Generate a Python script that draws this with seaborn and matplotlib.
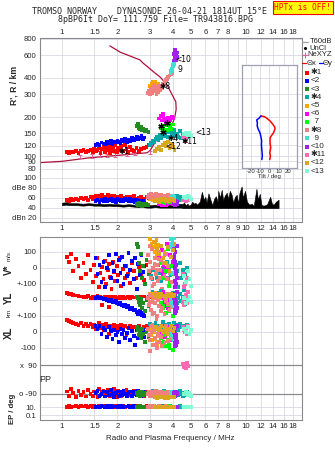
import numpy as np
import pandas as pd
import matplotlib
matplotlib.use("Agg")
import matplotlib.pyplot as plt
from matplotlib.ticker import NullLocator
import seaborn as sns

sns.set_theme(style="white")
plt.rcParams["font.family"] = ["Liberation Sans", "DejaVu Sans"]

# ---------------------------------------------------------------- axes ticks
FREQ_TICKS = [1, 1.5, 2, 3, 4, 5, 6, 7, 8, 9, 10, 12, 14, 16, 18]
EDGE_FREQ_LABELS = [1, 1.5, 2, 3, 4, 5, 6, 7, 8, 10, 12, 14, 16, 18]
HEIGHT_TICKS = [80, 90, 100, 120, 150, 200, 300, 400, 600, 800]
DB_TICKS = [20, 40, 60, 80, 100]
DB_LABELS = ["dBn 20", "40", "60", "dBe 80", "100"]
TILT_TICKS = [-20, -10, 0, 10, 20]

ECHO_NAMES = ["✱1", "<2", "<3", "✱4", "<5", "<6", "  7", "✱8", "  9",
              "<10", "✱11", "<12", "<13"]
ECHO_COLORS = ["#ff0000", "#0000ff", "#228b22", "#00a8a8", "#ffa500",
               "#ff00ff", "#00ff00", "#f08080", "#40e0d0", "#a020f0",
               "#ff69b4", "#daa520", "#7fffd4"]

# ---------------------------------------------------------------- echoes
# per echo: frequency (MHz), virtual height (km), amplitude (dB),
# V* (m/s), YL (km), XL (km), polarisation PP (deg), EP (deg)
F1 = [1.06, 1.09, 1.12, 1.15, 1.19, 1.23, 1.27, 1.31, 1.35, 1.39,
      1.43, 1.47, 1.50, 1.53, 1.56, 1.59, 1.62, 1.65, 1.68, 1.71,
      1.74, 1.77, 1.80, 1.83, 1.86, 1.89, 1.92, 1.95, 1.98, 2.02,
      2.06, 2.10, 2.14, 2.19, 2.24, 2.29, 2.35, 2.41, 2.47, 2.54,
      2.61, 2.69, 2.78, 2.88, 2.98]
H1 = [107, 106, 108, 107, 110, 106, 109, 111, 108, 110,
      112, 107, 114, 109, 111, 116, 106, 113, 118, 108,
      115, 111, 120, 105, 114, 117, 110, 122, 108, 116,
      112, 119, 109, 121, 114, 108, 117, 112, 110, 115,
      109, 113, 116, 118, 121]
A1 = [55, 54, 57, 56, 58, 55, 59, 57, 60, 56,
      62, 58, 61, 64, 59, 63, 57, 65, 60, 62,
      58, 66, 61, 59, 63, 60, 64, 58, 62, 61,
      59, 63, 57, 60, 62, 58, 61, 59, 63, 57,
      60, 62, 58, 61, 59]
V1 = [70, 40, 90, -20, 55, 10, -60, 30, -40, 80,
      -10, -90, 20, -50, 60, -120, -30, 5, -70, 45,
      -100, -15, 25, -55, -130, 35, -25, -80, 10, -45,
      65, -110, -5, -65, 15, -35, -95, 30, -20, -60,
      5, -40, -75, 20, -30]
Y1 = [42, 38, 35, 30, 28, 25, 22, 20, 18, 24,
      15, 20, 12, 18, 25, 14, 20, -30, 16, 22,
      12, 18, -45, 15, 20, 10, 16, 22, -20, 14,
      18, 12, 20, 15, -35, 18, 12, 22, 16, 20,
      14, 18, 22, 16, 20]
X1 = [75, 70, 60, 58, 50, 45, 55, 40, 48, 35,
      52, 30, 45, 20, 38, 55, 25, 42, 15, 35,
      50, 28, -10, 40, 32, 18, 45, 25, 38, 10,
      30, 42, 22, 35, -20, 28, 40, 15, 32, 25,
      38, 20, 30, 35, 28]
P1 = [-75, -100, -60, -85, -110, -70, -95, -80, -105, -65,
      -90, -100, -75, -85, -110, -60, -95, -80, -70, -100,
      -90, -65, -85, -105, -75, -95, -60, -80, -110, -70,
      -90, -100, -75, -85, -65, -95, -80, -105, -70, -90,
      -85, -75, -100, -80, -90]
E1 = [12, 15, 10, 14, 18, 11, 16, 13, 20, 9,
      15, 12, 17, 10, 14, 19, 11, 16, 13, 8,
      15, 12, 18, 10, 14, 16, 11, 13, 20, 9,
      15, 12, 17, 10, 14, 13, 11, 16, 12, 15,
      10, 14, 13, 17, 12]

F2 = [1.52, 1.56, 1.60, 1.64, 1.68, 1.72, 1.76, 1.80, 1.84, 1.88,
      1.92, 1.96, 2.00, 2.04, 2.08, 2.12, 2.16, 2.20, 2.25, 2.30,
      2.35, 2.40, 2.45, 2.50, 2.55, 2.60, 2.65, 2.70, 2.75, 2.80]
H2 = [121, 124, 122, 127, 125, 123, 128, 126, 130, 124,
      129, 127, 132, 128, 126, 133, 130, 135, 129, 134,
      131, 137, 133, 136, 140, 134, 138, 142, 136, 139]
A2 = [53, 55, 52, 56, 54, 57, 53, 55, 58, 54,
      56, 52, 57, 55, 53, 56, 54, 58, 55, 53,
      57, 54, 56, 52, 55, 53, 54, 51, 53, 50]
V2 = [60, -40, 20, -90, 40, -120, 0, 80, -60, 30,
      -20, 90, -80, 50, -30, 70, -100, 10, -50, 95,
      -10, 45, -70, 65, -130, 25, -45, 80, -25, 10]
Y2 = [15, 18, 10, 12, 5, 8, 0, -5, 2, -10,
      -15, -8, -20, -25, -18, -30, -35, -28, -45, -40,
      -55, -50, -65, -60, -75, -85, -70, -95, -80, -100]
X2 = [40, 20, 35, -10, 25, 10, -30, 30, 5, -45,
      15, -20, 0, -60, 20, -15, 10, -35, -5, 25,
      -50, 5, -25, -80, 10, -40, -10, -20, 15, -30]
P2 = [-85, -70, -100, -90, -75, -105, -80, -95, -65, -90,
      -110, -85, -75, -100, -80, -95, -70, -90, -105, -85,
      -75, -100, -80, -90, -95, -70, -85, -100, -80, -90]
E2 = [12, 14, 10, 16, 13, 11, 15, 12, 18, 10,
      14, 13, 11, 16, 12, 15, 10, 14, 13, 17,
      11, 12, 15, 10, 14, 13, 16, 11, 12, 14]

F3 = [2.55, 2.58, 2.62, 2.65, 2.68, 2.72, 2.76, 2.82, 2.88, 2.95]
H3 = [170, 176, 165, 160, 168, 158, 162, 157, 160, 154]
A3 = [47, 45, 49, 46, 48, 44, 47, 45, 48, 46]
V3 = [150, 130, 30, -20, 90, -60, 10, -100, 50, -40]
Y3 = [20, 10, -10, -30, 5, -50, -20, -70, 0, -40]
X3 = [30, 10, -20, 5, -40, 20, -10, -60, 0, -30]
P3 = [-85, -95, -80, -100, -90, -75, -95, -85, -90, -80]
E3 = [12, 14, 11, 15, 13, 10, 14, 12, 11, 13]

F4 = [3.00, 3.05, 3.10, 3.16, 3.22, 3.28, 3.34, 3.40, 3.46, 3.52,
      3.58, 3.64, 3.70, 3.76, 3.82, 3.88, 3.94, 4.00, 4.06, 4.12,
      4.20, 4.28, 4.36, 4.44, 4.52, 4.60, 4.68, 4.76]
H4 = [122, 126, 130, 128, 135, 140, 133, 145, 138, 150,
      142, 148, 155, 140, 152, 160, 145, 150, 158, 142,
      148, 140, 155, 138, 145, 142, 148, 140]
A4 = [58, 62, 56, 60, 64, 55, 59, 61, 57, 63,
      52, 58, 60, 56, 62, 54, 59, 61, 57, 60,
      64, 58, 62, 55, 60, 58, 56, 59]
V4 = [-20, -50, -70, -10, -40, -60, 20, -30, -80, 0,
      -55, -25, 40, -65, -15, -45, 10, -35, 60, -90,
      -20, -120, 30, -60, -10, -140, -40, 0]
Y4 = [40, 30, 50, 20, 35, 45, 10, 25, 55, 15,
      30, 5, 40, 20, -10, 30, 10, 45, 0, 25,
      -20, 15, 35, -5, 20, 10, -25, 5]
X4 = [50, 30, 45, 20, 55, 35, 10, 40, 25, 60,
      15, 45, 30, 5, 50, 20, 40, 35, 55, 25,
      45, 15, 50, 30, 40, 20, 35, 45]
P4 = [-80, -95, -70, -100, -85, -90, -75, -105, -85, -95,
      -70, -90, -100, -80, -85, -95, -75, -90, -105, -85,
      -80, -95, -70, -90, -100, -85, -95, -80]
E4 = [11, 13, 10, 15, 12, 14, 9, 13, 11, 16,
      12, 10, 14, 13, 11, 15, 12, 10, 13, 14,
      11, 12, 15, 10, 13, 12, 14, 11]

F5 = [3.02, 3.06, 3.10, 3.14, 3.18, 3.22, 3.26, 3.30, 3.12, 3.20, 3.28, 3.34]
H5 = [345, 360, 372, 355, 368, 350, 362, 340, 335, 375, 348, 358]
A5 = [58, 60, 62, 57, 61, 59, 63, 58, 56, 60, 62, 59]
V5 = [180, 150, 120, 165, 100, 140, 175, 110, 130, 160, 90, 145]
Y5 = [40, 25, 35, 15, 30, 45, 20, 35, 10, 30, 25, 40]
X5 = [10, -20, -50, -80, 0, -35, -65, -90, 15, -45, -70, -25]
P5 = [-85, -95, -80, -90, -100, -85, -75, -90, -95, -80, -90, -85]
E5 = [12, 14, 11, 13, 15, 12, 10, 14, 13, 11, 12, 14]

F6 = [3.38, 3.44, 3.50, 3.56, 3.62, 3.70, 3.78, 3.86, 3.94, 4.00, 3.52, 3.66]
H6 = [195, 205, 188, 200, 192, 185, 198, 190, 202, 195, 210, 182]
A6 = [48, 52, 46, 50, 54, 47, 51, 49, 53, 48, 50, 46]
V6 = [60, -20, 110, 20, -60, 150, -10, 80, -90, 40, -40, 0]
Y6 = [20, -30, 10, 50, -10, 30, -50, 0, 40, -20, 15, -40]
X6 = [20, -10, 40, 0, -30, 30, 10, -50, 25, -20, 5, 35]
P6 = [-90, -80, -100, -85, -95, -75, -90, -105, -85, -80, -95, -90]
E6 = [12, 14, 11, 13, 15, 10, 12, 14, 11, 13, 12, 15]

F7 = [3.45, 3.52, 3.60, 3.68, 3.76, 3.84, 3.92, 4.00, 3.56, 3.80]
H7 = [165, 170, 160, 172, 158, 168, 162, 175, 155, 178]
A7 = [52, 55, 50, 57, 53, 56, 51, 54, 58, 52]
V7 = [30, -60, 80, -20, 120, -90, 10, -40, 60, -110]
Y7 = [-20, -50, 10, -80, -30, -60, 0, -100, -40, -70]
X7 = [-40, -70, -20, -90, -50, -100, -30, -110, -60, -80]
P7 = [-90, -85, -95, -80, -100, -90, -85, -95, -75, -90]
E7 = [12, 13, 11, 14, 12, 15, 10, 13, 12, 14]

F8 = [2.92, 2.96, 3.00, 3.04, 3.08, 3.12, 3.16, 3.20, 3.24, 3.28,
      3.32, 3.36, 3.40, 3.45, 3.50, 3.55, 3.60, 3.66, 3.72, 3.78,
      3.84, 3.90, 3.96, 3.02, 3.10, 3.18, 3.26, 3.34, 3.42]
H8 = [305, 320, 312, 330, 308, 325, 315, 340, 318, 332,
      310, 345, 322, 350, 335, 360, 372, 385, 395, 405,
      418, 428, 440, 300, 340, 355, 300, 315, 338]
A8 = [62, 65, 60, 67, 63, 66, 61, 64, 68, 62,
      65, 59, 63, 66, 61, 64, 62, 60, 63, 65,
      61, 62, 64, 59, 66, 63, 60, 64, 62]
V8 = [80, -20, 40, -60, 120, 0, -100, 60, -40, 20,
      -80, 100, -10, 50, -130, 30, -50, 90, -70, 10,
      -30, 70, -90, 140, -110, 25, -15, 55, -65]
Y8 = [10, -30, 30, -60, -10, 20, -80, -20, 40, -100,
      0, -40, 15, -70, -50, 25, -90, -5, 35, -25,
      -60, 5, -45, -15, -85, 10, -120, -35, 20]
X8 = [20, -20, -50, 40, 0, -80, 10, -40, 30, -100,
      -10, -60, 25, -30, -90, 5, -70, 35, -15, -55,
      15, -45, -5, -120, 45, -35, -75, 0, -25]
P8 = [-90, -75, -100, -85, -95, -80, -105, -90, -70, -95,
      -85, -100, -80, -90, -75, -95, -85, -105, -80, -90,
      -95, -75, -85, -100, -90, -80, -95, -85, -90]
E8 = [12, 14, 10, 15, 13, 11, 16, 12, 14, 10,
      13, 15, 11, 12, 14, 10, 13, 16, 12, 11,
      14, 13, 12, 15, 10, 13, 12, 14, 11]

F9 = [3.88, 3.92, 3.95, 3.98, 4.00, 4.02, 4.04, 4.06, 3.96]
H9 = [440, 455, 470, 480, 495, 505, 515, 525, 460]
A9 = [60, 62, 61, 63, 60, 64, 62, 61, 59]
V9 = [180, 150, 130, 170, 110, 140, 190, 60, -30]
Y9 = [30, 10, -20, 40, 0, -40, 20, -10, 25]
X9 = [20, -10, 40, 0, -30, 30, -50, 10, -20]
P9 = [-85, -90, -80, -95, -90, -85, -100, -80, -90]
E9 = [12, 13, 11, 14, 12, 13, 11, 12, 14]

F10 = [4.06, 4.08, 4.10, 4.12, 4.14, 4.09, 4.11, 4.13, 4.07, 4.15,
       4.18, 4.20, 4.16, 4.22]
H10 = [545, 565, 585, 600, 620, 640, 655, 575, 610, 560,
       595, 630, 550, 580]
A10 = [50, 48, 52, 46, 51, 49, 53, 47, 50, 48, 52, 47, 49, 51]
V10 = [120, 80, 40, 0, -40, -80, -120, 100, 60, 20, -20, -60, -100, 140]
Y10 = [40, 20, 0, -20, -40, -60, -80, 30, 10, -10, -30, -50, -70, 50]
X10 = [30, 10, -10, -30, -50, -70, -90, 20, 0, -20, -40, -60, -80, 40]
P10 = [-85, -90, -80, -95, -90, -85, -100, -80, -90, -85, -95, -90, -80, -85]
E10 = [12, 13, 11, 14, 12, 13, 11, 12, 14, 12, 13, 11, 12, 14]

F11 = [4.55, 4.62, 4.70, 4.78, 4.85, 4.66]
H11 = [140, 146, 135, 150, 142, 130]
A11 = [55, 57, 54, 58, 56, 55]
V11 = [-40, -120, -170, -60, -150, -100]
Y11 = [-10, -30, 20, -20, 0, 10]
X11 = [30, 10, 20, -10, 40, 0]
P11 = [95, 80, 70, 100, 85, 75]
E11 = [13, 12, 14, 11, 13, 12]

F12 = [3.20, 3.28, 3.36, 3.44, 3.52, 3.60, 3.68, 3.76, 3.84, 3.92, 4.00, 4.08]
H12 = [110, 114, 118, 112, 122, 126, 120, 128, 115, 124, 118, 112]
A12 = [54, 56, 52, 58, 55, 57, 53, 56, 54, 58, 55, 53]
V12 = [160, 120, 90, 140, 60, 100, 30, 130, -20, 70, 110, 150]
Y12 = [30, 25, 20, 35, 28, 22, 18, 32, 26, 40, 24, 30]
X12 = [30, 20, 10, 35, 0, 25, 15, -10, 20, 40, 5, 25]
P12 = [-110, -115, -105, -112, -108, -118, -110, -115, -105, -112, -108, -110]
E12 = [10, 9, 11, 10, 8, 9, 10, 11, 9, 10, 8, 9]

F13 = [4.62, 4.72, 4.82, 4.92, 5.00]
H13 = [148, 152, 145, 150, 143]
A13 = [62, 60, 63, 61, 58]
V13 = [-50, -90, -20, -70, -110]
Y13 = [10, -20, 0, 20, -10]
X13 = [20, 0, 30, -10, 10]
P13 = [-90, -80, -95, -85, -100]
E13 = [12, 13, 11, 14, 12]

# ---------------------------------------------------------------- model trace
MODEL_F = [0.76, 1.0, 1.42, 2.15, 2.9, 3.02, 3.12, 3.25, 3.49, 3.75, 3.96,
           4.1, 4.17, 4.15, 4.0, 3.72, 3.41, 3.2, 2.75, 2.65, 2.07, 1.82]
MODEL_H = [89, 91, 97, 102, 106, 111, 120, 132, 142, 155, 174,
           200, 230, 262, 290, 354, 407, 437, 523, 552, 633, 708]

NE_F = [1.25, 1.46, 1.61, 1.76, 1.94, 2.25, 2.49, 3.00]
NE_H = [99, 100, 101, 101, 102, 103, 104, 107]
NE_ERR = [3, 3, 3, 3, 3, 3, 3, 3]

# echo identifiers written next to the traces
LABEL_TEXT = ["✱1", "✱8", "9", "<10", "✱4", "<12", "✱11", "<13"]
LABEL_F = [2.02, 3.38, 4.26, 4.12, 3.74, 3.63, 4.45, 5.30]
LABEL_H = [108, 343, 462, 560, 137, 118, 129, 151]

# fitted echo centres without a label of their own
ANCHOR_F = [3.47, 3.74, 3.52]
ANCHOR_H = [172, 180, 152]

# ---------------------------------------------------------------- noise (dB)
NOISE_LO_F = [1.00, 1.05, 1.10, 1.20, 1.30, 1.40, 1.50, 1.60, 1.70, 1.80,
              1.90, 2.00, 2.15, 2.30, 2.45, 2.60, 2.75, 2.90, 3.05, 3.20,
              3.40, 3.60, 3.80, 4.00, 4.20, 4.40, 4.50]
NOISE_LO_TOP = [50, 51, 49, 49, 48, 49, 48, 48, 47, 48,
                47, 47, 46, 47, 46, 45, 46, 45, 45, 46,
                44, 45, 46, 45, 47, 48, 47]
NOISE_LO_BOT = [45, 46, 45, 45, 44, 45, 44, 44, 43, 44,
                43, 43, 42, 43, 42, 41, 41, 40, 40, 41,
                40, 40, 40, 40, 40, 40, 40]
NOISE_HI_F = [4.50, 4.60, 4.70, 4.80, 4.90, 5.00, 5.10, 5.20, 5.30, 5.40,
              5.50, 5.60, 5.75, 5.90, 6.00, 6.10, 6.24, 6.40, 6.55, 6.70,
              6.85, 7.00, 7.06, 7.20, 7.37, 7.50, 7.65, 7.84, 8.00, 8.15,
              8.34, 8.50, 8.70, 8.89, 9.05, 9.20, 9.45, 9.60, 9.86, 10.1,
              10.4, 10.7, 11.0, 11.37, 11.6, 11.86, 12.1, 12.4, 12.7, 13.0,
              13.5, 13.8, 14.1, 14.5, 15.0]
NOISE_HI_TOP = [47, 50, 45, 48, 44, 46, 52, 48, 50, 46,
                49, 52, 72, 55, 62, 50, 69, 56, 45, 58,
                63, 52, 74, 60, 76, 55, 64, 70, 58, 74,
                66, 50, 62, 66, 48, 70, 83, 60, 74, 52,
                46, 48, 44, 78, 56, 68, 46, 44, 45, 47,
                62, 48, 46, 52, 56]
NOISE_FLOOR = 39

# ---------------------------------------------------------------- tilt inset
TILT_X_H = [203, 200, 195, 185, 174, 165, 161, 150, 140, 137, 125, 115, 105, 99, 93]
TILT_X = [-8.9, -5, -2.8, 1, 4, 6, 6.1, 4.5, 1.5, 0.8, 0.8, 1.5, 0.5, 1.2, 0.5]
TILT_Y_H = [203, 195, 189, 180, 170, 161, 150, 140, 130, 122, 110, 100, 93]
TILT_Y = [-8.9, -11, -13.5, -12.8, -13, -12, -10, -9, -8.2, -8.5, -8, -7.5, -8]

TITLE_1 = "TROMSO NORWAY    DYNASONDE 26-04-21 1814UT 15°E"
TITLE_2 = "8pBP6It DoY= 111.759 File= TR943816.BPG"

# ---------------------------------------------------------------- table
groups = [(F1, H1, A1, V1, Y1, X1, P1, E1), (F2, H2, A2, V2, Y2, X2, P2, E2),
          (F3, H3, A3, V3, Y3, X3, P3, E3), (F4, H4, A4, V4, Y4, X4, P4, E4),
          (F5, H5, A5, V5, Y5, X5, P5, E5), (F6, H6, A6, V6, Y6, X6, P6, E6),
          (F7, H7, A7, V7, Y7, X7, P7, E7), (F8, H8, A8, V8, Y8, X8, P8, E8),
          (F9, H9, A9, V9, Y9, X9, P9, E9),
          (F10, H10, A10, V10, Y10, X10, P10, E10),
          (F11, H11, A11, V11, Y11, X11, P11, E11),
          (F12, H12, A12, V12, Y12, X12, P12, E12),
          (F13, H13, A13, V13, Y13, X13, P13, E13)]
frames = []
for name, (f, h, a, v, yl, xl, pp, ep) in zip(ECHO_NAMES, groups):
    frames.append(pd.DataFrame({"freq": f, "height": h, "amp": a, "vstar": v,
                                "yl": yl, "xl": xl, "pp": pp, "ep": ep,
                                "echo": name}))
echoes = pd.concat(frames, ignore_index=True)

# stacked strips of the lower panel share one vertical coordinate
ROW_V, ROW_YL, ROW_XL, ROW_PP, ROW_EP = 152, 120, 88, 26, 13
KM_SCALE = 0.16          # strip units per m/s or km
PP_SCALE = 29 / 180      # strip units per degree of polarisation
EP_SCALE = 4             # strip units per decade of EP
echoes["u_v"] = ROW_V + echoes["vstar"] * KM_SCALE
echoes["u_yl"] = ROW_YL + echoes["yl"] * KM_SCALE
echoes["u_xl"] = ROW_XL + echoes["xl"] * KM_SCALE
echoes["u_pp"] = ROW_PP + (echoes["pp"] + 90) * PP_SCALE
echoes["u_ep"] = ROW_EP + (np.log10(echoes["ep"]) - 1) * EP_SCALE

BAND_TICKS = [ROW_V + 100 * KM_SCALE, ROW_V, ROW_V - 100 * KM_SCALE, ROW_YL,
              ROW_YL - 100 * KM_SCALE, ROW_XL, ROW_XL - 100 * KM_SCALE,
              ROW_PP + 180 * PP_SCALE, ROW_PP, ROW_EP, ROW_EP - 2 * EP_SCALE]
BAND_LABELS = ["100", "0", "+-100", "0", "+-100", "0", "-100",
               "x  90", "o -90", "10.", "0.1"]

PALETTE = dict(zip(ECHO_NAMES, ECHO_COLORS))
GRID = "#d9d9e4"
SPINE = "#8a8a8a"
TICK_FS = 5.6
MARK_S = 7.5

W, H = 335, 451
fig = plt.figure(figsize=(W / 100, H / 100), dpi=100)
fig.patch.set_facecolor("white")


def box(x0, y0, x1, y1):
    return [x0 / W, 1 - y1 / H, (x1 - x0) / W, (y1 - y0) / H]


def echo_scatter(ax, ycol):
    sns.scatterplot(data=echoes, x="freq", y=ycol, hue="echo",
                    hue_order=ECHO_NAMES, palette=PALETTE, marker="s",
                    s=MARK_S, linewidth=0, legend=False, ax=ax, zorder=3)


def freq_axis(ax, shown, pad):
    ax.set_xscale("log")
    ax.set_xlim(0.76, 20.1)
    ax.set_xticks(FREQ_TICKS,
                  labels=[(f"{t:g}" if t in shown else "") for t in FREQ_TICKS])
    ax.xaxis.set_minor_locator(NullLocator())
    ax.tick_params(axis="both", length=0, labelsize=TICK_FS)
    ax.tick_params(axis="x", pad=pad)
    ax.tick_params(axis="y", pad=2.5)
    for s in ax.spines.values():
        s.set_color(SPINE)
        s.set_linewidth(0.8)
    ax.grid(True, which="major", color=GRID, lw=0.6)
    ax.set_axisbelow(True)
    ax.set_xlabel("")
    ax.set_ylabel("")


# ---------------------------------------------------------------- heights
ax_h = fig.add_axes(box(40, 38, 302, 172))
ax_h.set_xscale("log")
ax_h.set_yscale("log")
sns.lineplot(x=MODEL_F, y=MODEL_H, sort=False, estimator=None,
             color="#b0103c", lw=0.9, ax=ax_h, zorder=2)
ax_h.errorbar(NE_F, NE_H, yerr=NE_ERR, fmt="none", ecolor="#e0609a",
              elinewidth=0.7, capsize=1.2, capthick=0.7, zorder=2)
echo_scatter(ax_h, "height")
ax_h.plot(ANCHOR_F, ANCHOR_H, ls="none", marker=(6, 2, 0), ms=4.5, mew=0.9,
          color="black", zorder=4)
for t, f, h in zip(LABEL_TEXT, LABEL_F, LABEL_H):
    ax_h.text(f, h, t, fontsize=5.5, color="black", ha="left", va="center",
              family=["DejaVu Sans"], zorder=4)
freq_axis(ax_h, EDGE_FREQ_LABELS, 1.5)
ax_h.xaxis.tick_top()
ax_h.set_ylim(75.3, 814)
ax_h.set_yticks(HEIGHT_TICKS, labels=[str(t) for t in HEIGHT_TICKS])
ax_h.yaxis.set_minor_locator(NullLocator())
ax_h.spines["bottom"].set_visible(False)

# ---------------------------------------------------------------- amplitudes
ax_db = fig.add_axes(box(40, 172, 302, 222))
ax_db.set_xscale("log")
ax_db.fill_between(NOISE_LO_F, NOISE_LO_BOT, NOISE_LO_TOP, color="black",
                   lw=0.4, zorder=2)
ax_db.fill_between(NOISE_HI_F, NOISE_FLOOR, NOISE_HI_TOP, color="black",
                   lw=0.4, zorder=2)
echo_scatter(ax_db, "amp")
freq_axis(ax_db, FREQ_TICKS, 2.3)
ax_db.set_ylim(11, 112)
ax_db.set_yticks(DB_TICKS, labels=DB_LABELS)
ax_db.spines["top"].set_visible(False)

# ---------------------------------------------------------------- drift strips
ax_b = fig.add_axes(box(40, 237, 302, 420))
ax_b.set_xscale("log")
for col in ["u_v", "u_yl", "u_xl", "u_pp", "u_ep"]:
    echo_scatter(ax_b, col)
freq_axis(ax_b, EDGE_FREQ_LABELS, 2.3)
ax_b.set_ylim(0, 183)
ax_b.set_yticks(BAND_TICKS, labels=BAND_LABELS)
for yv in (ROW_PP + 180 * PP_SCALE, ROW_PP):
    ax_b.axhline(yv, color="#8a8a8a", lw=0.9, zorder=1)

# ---------------------------------------------------------------- tilt inset
ax_in = fig.add_axes(box(242, 65, 297, 168))
ax_in.set_facecolor("white")
ax_in.set_yscale("log")
sns.lineplot(x=TILT_X, y=TILT_X_H, sort=False, estimator=None, color="#ff0000",
             lw=1.1, ax=ax_in)
sns.lineplot(x=TILT_Y, y=TILT_Y_H, sort=False, estimator=None, color="#0000ff",
             lw=1.1, ax=ax_in)
ax_in.set_xlim(-29.3, 29.7)
ax_in.set_ylim(81, 505)
ax_in.set_xticks(TILT_TICKS, labels=[str(t) for t in TILT_TICKS])
ax_in.set_yticks(HEIGHT_TICKS[:-2], labels=[])
ax_in.yaxis.set_minor_locator(NullLocator())
ax_in.tick_params(length=0, labelsize=4.3, pad=0.5)
ax_in.grid(True, color=GRID, lw=0.6)
ax_in.set_xlabel("Tilt / deg", fontsize=4.3, labelpad=0)
ax_in.set_ylabel("")
for s in ax_in.spines.values():
    s.set_color("#a0a0b4")
    s.set_linewidth(0.9)

# ---------------------------------------------------------------- text layer
ov = fig.add_axes([0, 0, 1, 1])
ov.set_xlim(0, W)
ov.set_ylim(H, 0)
ov.axis("off")

mono = ["DejaVu Sans Mono"]
ov.text(150, 12, TITLE_1, family=mono, fontsize=6.0, ha="center", va="center")
ov.text(156, 20, TITLE_2, family=mono, fontsize=6.0, ha="center", va="center")
ov.text(303, 7.5, "HPTx is OFF!", family=mono, fontsize=5.7, color="#ff0000",
        ha="center", va="center",
        bbox=dict(boxstyle="square,pad=0.25", fc="#ffff00", ec="#ff0000", lw=0.8))

ov.text(14, 85, "R', R / km", rotation=90, fontsize=6.2, weight="bold",
        ha="center", va="center")
ov.text(9, 270, "V*", rotation=90, fontsize=7, weight="bold", ha="center", va="center")
ov.text(9, 256, "m/s", rotation=90, fontsize=4.5, ha="center", va="center")
ov.text(9, 298, "YL", rotation=90, fontsize=7, weight="bold", ha="center", va="center")
ov.text(9, 313, "km", rotation=90, fontsize=4.5, ha="center", va="center")
ov.text(9, 333, "XL", rotation=90, fontsize=7, weight="bold", ha="center", va="center")
ov.text(45, 379, "PP", fontsize=6.5, ha="center", va="center")
ov.text(12, 409, "EP / deg", rotation=90, fontsize=5.6, weight="bold",
        ha="center", va="center")
ov.text(170, 438, "Radio and Plasma Frequency / MHz", fontsize=5.8,
        ha="center", va="center")

# key
LEG_FS = 5.5
ov.plot([302, 308], [41.7, 41.7], color="#a0a0a0", lw=0.9)
ov.text(309.5, 41.7, "T60dB", fontsize=LEG_FS, va="center")
ov.plot([305], [48.3], marker="o", ms=1.2, color="black")
ov.text(309.5, 48.3, "UnCl", fontsize=LEG_FS, va="center")
ov.plot([305], [55], marker="+", ms=4, mew=0.8, color="#e0609a")
ov.text(307.5, 55, "NeXYZ", fontsize=LEG_FS, va="center")
ov.plot([302, 306], [63.3, 63.3], color="#ff0000", lw=0.9)
ov.text(306.5, 63.3, "Θx", fontsize=LEG_FS, va="center")
ov.plot([318.5, 322.5], [63.3, 63.3], color="#0000ff", lw=0.9)
ov.text(323, 63.3, "Θy", fontsize=LEG_FS, va="center")
for i, (name, color) in enumerate(zip(ECHO_NAMES, ECHO_COLORS)):
    y = 72.7 + i * 8.2
    ov.scatter([306.7], [y], marker="s", s=6, color=color, linewidths=0)
    ov.text(310.5, y, name, fontsize=LEG_FS + 0.4, va="center")

fig.savefig("out.png", dpi=100)
